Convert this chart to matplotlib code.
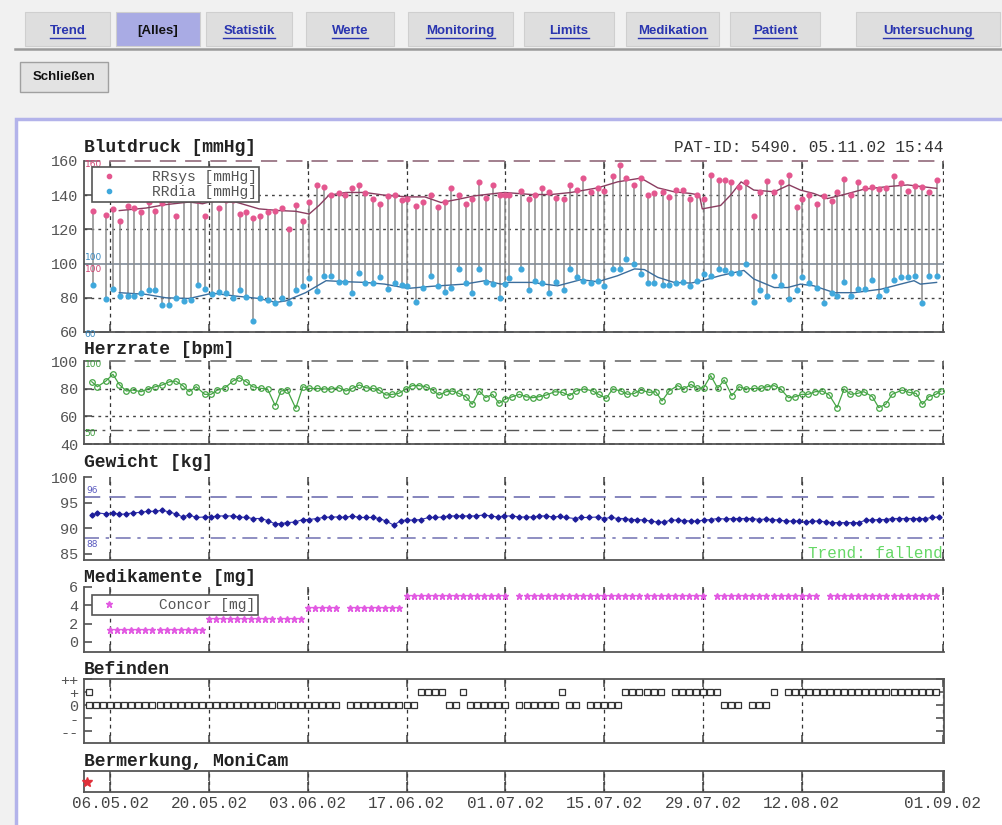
import matplotlib.pyplot as plt
from matplotlib.patches import Rectangle
from matplotlib.lines import Line2D

# ---------------- data (x = days since 06.05.02) ----------------
date_ticks = [0, 14, 28, 42, 56, 70, 84, 98, 118]
date_labels = ['06.05.02', '20.05.02', '03.06.02', '17.06.02', '01.07.02',
               '15.07.02', '29.07.02', '12.08.02', '01.09.02']

bp_days = [-2.4, -0.6, 0.4, 1.4, 2.5, 3.4, 4.4, 5.5, 6.4, 7.4, 8.4, 9.3, 10.5, 11.5, 12.4,
           13.5, 14.4, 15.4, 16.4, 17.4, 18.4, 19.3, 20.3, 21.3, 22.3, 23.4, 24.3, 25.4,
           26.3, 27.3, 28.2, 29.3, 30.3, 31.3, 32.4, 33.3, 34.3, 35.2, 36.1,
           37.3, 38.2, 39.4, 40.3, 41.3, 42.1, 43.3, 44.3, 45.4, 46.4, 47.4, 48.3, 49.4,
           50.4, 51.3, 52.3, 53.3, 54.2, 55.2, 55.9, 56.5, 58.2, 59.3, 60.2, 61.2, 62.2,
           63.2, 64.3, 65.2, 66.1, 67.0, 68.2, 69.1, 70.0, 71.2, 72.2, 73.1, 74.2, 75.2,
           76.2, 77.1,
           78.3, 79.2, 80.2, 81.1, 82.2, 83.1, 84.2, 85.1, 86.3, 87.1, 88.0, 89.1, 90.1,
           91.2, 92.1, 93.1, 94.1, 95.0, 96.2, 97.3, 98.1, 99.0, 100.1, 101.2, 102.3,
           103.0, 104.0, 105.0, 106.0, 107.0, 108.0, 108.9, 109.9, 111.0, 112.0, 113.1,
           114.0, 115.1, 116.0, 117.1]
rr_sys = [131, 128.6, 132, 125, 133.7, 132.5, 130, 136, 131, 135.5, 137, 128, 138, 138, 137,
          128, 138, 132.7, 137, 137, 129, 130, 126.7, 128, 130, 130.6, 132.5, 120, 134, 125,
          136, 146, 145, 140, 141, 140, 144.5, 146, 141,
          138, 135, 139.6, 140.4, 137, 138, 133.7, 136, 140.4, 133, 136, 144.3, 140.4, 135,
          138, 147.5, 138.4, 146, 140.4, 140.4, 140.4, 142.4, 138, 140, 144.3, 141.6, 138.4,
          138, 146, 143, 150, 141.6, 144.3, 142.7, 151.4, 157.6, 149.8, 146, 150, 140.4, 141,
          141.6, 139, 143, 143, 137.6, 140.4, 138, 152, 148.8, 148.8, 147.8, 145, 147.8, 128,
          142, 148.2, 141.6, 147.5, 151.8, 133, 138, 140.4, 135, 139.6, 136.5, 142, 149.4,
          140.4, 147.8, 144.3, 145, 143.5, 144, 151.4, 146.9, 142.4, 145.5, 145, 141.6, 148.8]
rr_dia = [87.5, 79.2, 85, 81, 80.8, 80.8, 83, 84.5, 84.5, 76, 76, 80, 78, 79, 87.5, 85, 82,
          83.5, 83, 80, 84.5, 80.6, 66.5, 80, 79, 77, 80, 77, 84.7, 87, 91.4, 84, 92.5, 92.5,
          89.4, 89.4, 83, 94.3, 88.6,
          88.6, 92, 85, 88.4, 87.5, 86.7, 77.3, 86, 92.5, 86.7, 83.5, 85.5, 96.9, 88.4, 83,
          96.9, 89.4, 88, 79.6, 88, 91.8, 96.9, 84.5, 90, 88.4, 83, 89.4, 84.5, 96.9, 92, 90,
          88.6, 90, 87, 96.9, 96.9, 102.7, 99.8, 94, 88.6, 88.6,
          87.5, 87.5, 88.6, 89.4, 87, 90, 94, 92.5, 96.9, 96, 94.5, 94.5, 99.8, 77.3, 84.7,
          81, 92.5, 87.5, 79.2, 84.5, 92, 88.6, 85.5, 76.7, 83, 80.8, 89, 80.8, 85, 85, 90.6,
          80.8, 84.7, 90.6, 92, 92, 92.5, 76.9, 92.5, 92.5]

sys_trend_days = [1.3, 5.1, 7.9, 11.2, 13.1, 14.5, 17.8, 21.1, 24.0, 26.3, 28.2, 29.6, 31.0,
                  33.4, 36.1, 38.9, 42.2, 44.6, 46.9, 49.3, 51.6, 54.5, 55.9, 59.7, 62.5,
                  65.3, 69.1, 71.9, 75.2, 77.6, 79.9, 82.3, 83.5, 83.9, 86.5, 87.9, 89.4,
                  91.2, 94.1, 96.2, 97.8, 99.7, 101.6, 104.0, 106.8, 110.1, 113.0, 117.1]
sys_trend = [131, 132.5, 134.5, 136, 135, 136.5, 136, 132, 131, 130.6, 129, 134, 140, 141.6,
             141.6, 140, 139, 139, 135.7, 137.6, 139.6, 141, 141.6, 140.4, 140.4, 141.6, 144.3,
             147.8, 150, 144.3, 142, 141, 140, 132, 134, 140, 147.8, 143, 142, 146, 143, 141,
             138, 140.4, 143.5, 145, 146, 144]
dia_trend_days = [1.3, 5.1, 7.9, 11.2, 14.5, 17.8, 21.1, 23.5, 24.9, 27.7, 30.6, 33.4, 36.1,
                  38.9, 42.2, 45.5, 50.2, 53.1, 55.4, 56.4, 59.7, 63.4, 66.7, 69.1, 71.9,
                  74.3, 75.7, 77.6, 79.9, 82.3, 83.9, 86.5, 89.8, 91.2, 94.1, 96.0, 97.8,
                  99.7, 102.6, 105.4, 109.2, 112.0, 113.9, 114.8, 117.1]
dia_trend = [83, 82, 80, 79.6, 82.7, 81, 79.6, 77.3, 78.2, 83, 90, 89.4, 89, 88, 85.5, 86.7,
             88, 90, 88, 89, 89, 87, 90.6, 89.4, 92.9, 96.9, 96.5, 92, 89, 88.6, 90, 93, 96,
             91, 86, 86, 88, 87, 83, 83, 85, 88, 90, 88, 89]

hr_days = [-2.6, -1.8, -0.6, 0.4, 1.3, 2.3, 3.2, 4.4, 5.3, 6.4, 7.4, 8.4, 9.3, 10.3, 11.2,
           12.2, 13.4, 14.3, 15.2, 16.3, 17.4, 18.3, 19.3, 20.2, 21.4, 22.3, 23.4, 24.2, 25.1,
           26.3, 27.3, 28.2, 29.3, 30.3, 31.3, 32.4, 33.4, 34.3, 35.3, 36.2, 37.2, 38.1, 39.1,
           40.0, 40.9, 41.9, 42.8, 43.8, 44.7, 45.7, 46.6, 47.6, 48.5, 49.4, 50.4, 51.3, 52.3,
           53.2, 54.2, 55.1, 56.0, 57.0,
           58.0, 58.9, 59.9, 60.8, 61.8, 63.0, 64.1, 65.1, 66.0, 67.2, 68.4, 69.2, 70.3, 71.2,
           72.4, 73.3, 74.3, 75.2, 76.4, 77.3, 78.2, 79.2, 80.4, 81.3, 82.3, 83.2, 84.1, 85.1,
           86.1, 87.0, 88.1, 89.1, 90.1, 91.3, 92.2, 93.1, 94.1, 95.0, 96.1, 97.1, 98.0, 98.9,
           99.9, 100.9, 101.9, 103.0, 104.0, 104.9, 105.9, 106.8, 108.0, 108.9, 109.9, 110.8,
           112.2, 113.2, 114.2, 115.1, 116.0, 117.0, 117.7]
hr = [85, 81.4, 85.5, 90.4, 83, 78.3, 79, 77.8, 79.8, 81.4, 82.7, 85, 85.5, 82.2, 77.8, 81.4,
      75.9, 75.9, 79, 80.7, 85.5, 88, 85, 81.4, 80.2, 79.8, 67.7, 78.3, 79, 65.8, 81.4, 80.2,
      80.2, 79.8, 79.8, 80.7, 78.3, 80.2, 82.7, 80.7, 80.2, 79, 75.4, 75.9, 76.6, 79.8, 82.2,
      82.2, 81.4, 79, 75.4, 77.8, 78.3, 76.6, 74.2, 68.7, 78.3, 73.5, 75.9, 69.4, 72.5, 74.2,
      75.9, 74.2, 73.5, 74.2, 75.4, 77.8, 77.3, 74.9, 78.3, 79.8, 78.3, 75.9, 73, 79.8, 78.3,
      75.9, 76.6, 79, 77.3, 77.8, 71.1, 78.3, 82.2, 79.8, 83.1, 80.2, 80.7, 89.4, 80.2, 86.3,
      74.9, 81.4, 79.8, 80.2, 80.2, 81.4, 82.2, 79.8, 73.5, 74.2, 75.9, 75.9, 77.8, 78.3, 75.4,
      66.3, 79.8, 75.9, 76.6, 77.8, 74.2, 66.3, 68.7, 75.9, 79, 77.3, 76.6, 68.7, 74.2, 75.9,
      78.3]

wt_days = [-2.6, -1.8, -0.6, 0.4, 1.3, 2.3, 3.2, 4.4, 5.3, 6.3, 7.4, 8.3, 9.3, 10.3, 11.2,
           12.2, 13.4, 14.3, 15.2, 16.3, 17.4, 18.3, 19.3, 20.2, 21.4, 22.3, 23.3, 24.2, 25.1,
           26.2, 27.3, 28.2, 29.3, 30.3, 31.3, 32.4, 33.3, 34.3, 35.3, 36.2, 37.2, 38.1, 39.1,
           40.2, 41.2, 42.1, 43.1, 44.0, 45.2, 46.1, 47.1, 48.0, 49.0, 49.9, 50.9, 51.8, 53.0,
           53.9, 54.9, 55.8, 57.0,
           58.0, 58.9, 59.9, 60.8, 61.8, 62.7, 63.7, 64.6, 65.8, 66.7, 67.9, 69.1, 70.0, 71.0,
           71.9, 72.9, 73.8, 74.7, 75.7, 76.6, 77.6, 78.5, 79.5, 80.4, 81.3, 82.3, 83.2, 84.2,
           85.1, 86.1, 87.2, 88.2, 89.1, 90.1, 91.0, 92.0, 92.9, 93.8, 94.8, 95.7, 96.7, 97.6,
           98.6, 99.5, 100.5, 101.4, 102.3, 103.3, 104.2, 105.2, 106.1, 107.1, 108.0, 108.9,
           109.9, 110.8, 111.8, 112.7, 113.7, 114.6, 115.5, 116.5, 117.4]
wt = [92.5, 93, 92.8, 93, 92.7, 92.8, 93, 93.1, 93.3, 93.3, 93.5, 93.2, 92.8, 92.2, 92.6, 92.1,
      92.2, 92.2, 92.4, 92.4, 92.4, 92.2, 92.1, 91.9, 91.9, 91.5, 90.9, 90.9, 91.1, 91.2, 91.7,
      91.7, 91.9, 92.1, 92.2, 92.2, 92.1, 92.4, 92.1, 92.1, 92.1, 91.9, 91.4, 90.6, 91.5, 91.6,
      91.6, 91.7, 92.1, 92.1, 92.2, 92.4, 92.4, 92.4, 92.4, 92.4, 92.6, 92.4, 92.2, 92.4, 92.4,
      92.2, 92.2, 92.2, 92.4, 92.4, 92.2, 92.3, 92.1, 91.9, 92.1, 92.1, 92.2, 91.9, 92.1, 91.9,
      91.9, 91.7, 91.7, 91.6, 91.4, 91.2, 91.2, 91.6, 91.6, 91.5, 91.4, 91.4, 91.6, 91.7, 91.9,
      91.8, 91.9, 91.9, 91.9, 91.9, 91.7, 91.8, 91.7, 91.6, 91.4, 91.4, 91.4, 91.2, 91.4, 91.4,
      91.2, 91.1, 91.1, 91.1, 91.1, 91.1, 91.6, 91.6, 91.7, 91.7, 91.9, 91.9, 91.9, 91.9, 91.9,
      91.9, 92.1, 92.2]

# Concor dose per day (mg)
med_days = (list(range(0, 14)) + list(range(14, 28)) + list(range(28, 33)) + list(range(34, 42))
            + list(range(42, 57)) + list(range(58, 85)) + list(range(86, 101)) + list(range(102, 118)))
med_dose = ([1.25] * 14 + [2.5] * 14 + [3.75] * 13 + [5.0] * 73)

# Befinden: 1 = "+", 0 = "0"
bef_days = ([-3] + list(range(-3, 33)) + list(range(34, 44)) + list(range(44, 48)) + [48, 49, 50]
            + list(range(51, 57)) + list(range(58, 64)) + [64, 65, 66] + list(range(68, 73))
            + list(range(73, 79)) + list(range(80, 87)) + [87, 88, 89, 91, 92, 93] + [94]
            + list(range(96, 118)))
bef_vals = ([1] + [0] * 36 + [0] * 10 + [1] * 4 + [0, 0, 1] + [0] * 6 + [0] * 6 + [1, 0, 0]
            + [0] * 5 + [1] * 6 + [1] * 7 + [0] * 6 + [1] + [1] * 22)

bem_days = [-3.25]
bem_vals = [0.5]

tab_names = ['Trend', '[Alles]', 'Statistik', 'Werte', 'Monitoring', 'Limits',
             'Medikation', 'Patient', 'Untersuchung']

# ---------------- layout helpers (pixels) ----------------
W, H = 1002, 825
fig = plt.figure(figsize=(W / 100, H / 100), dpi=100)
fig.patch.set_facecolor('#f1f1f1')
plt.rcParams['font.family'] = ['Liberation Mono', 'DejaVu Sans Mono']
NARROW = ['Liberation Sans Narrow', 'Liberation Sans', 'DejaVu Sans']


def box(x0, y0, x1, y1):
    return [x0 / W, 1 - y1 / H, (x1 - x0) / W, (y1 - y0) / H]


def rect(x0, y0, x1, y1, **kw):
    r = Rectangle((x0 / W, 1 - y1 / H), (x1 - x0) / W, (y1 - y0) / H,
                  transform=fig.transFigure, **kw)
    fig.add_artist(r)
    return r


def ftext(x, y, s, **kw):
    return fig.text(x / W, 1 - y / H, s, **kw)


# page: tabs, button, content frame
tab_boxes = [(25, 110), (116, 200), (206, 292), (306, 394), (408, 513), (524, 614),
             (626, 719), (730, 820), (856, 1000)]
for name, (x0, x1) in zip(tab_names, tab_boxes):
    sel = name == '[Alles]'
    rect(x0, 12, x1, 46, fc='#a9abe4' if sel else '#dedede', ec='#cfcfcf', lw=0.8, zorder=-4)
fig.add_artist(Line2D([15 / W, 1], [1 - 49 / H] * 2, transform=fig.transFigure,
                      color='#9a9a9a', lw=1.8, zorder=-3))
tab_texts = []
for name, (x0, x1) in zip(tab_names, tab_boxes):
    sel = name == '[Alles]'
    t = ftext((x0 + x1) / 2, 31, name, ha='center', va='center', fontsize=9.5,
              fontweight='bold', family=NARROW, color='#111111' if sel else '#2a35b0')
    if not sel:
        tab_texts.append(t)

rect(20, 62, 108, 92, fc='#e3e3e3', ec='#a0a0a0', lw=1, zorder=-4)
ftext(64, 77, 'Schließen', ha='center', va='center', fontsize=9.5, fontweight='bold',
      family=NARROW, color='#111111')

rect(16, 119, W + 5, H + 5, fc='white', ec='#b3b3ea', lw=2.5, zorder=-5)

# ---------------- panels ----------------
L, R = 84, 944
XMIN, XMAX = -3.7, 118.15
GRID_V = dict(color='#333333', linestyle=(0, (3, 3)), lw=0.9)
DOT = dict(color='#444444', linestyle=(0, (2, 3)), lw=1.0)


def panel(y0, y1, ylim, yticks, yticklabels=None, closed=False, right_ticks=False):
    ax = fig.add_axes(box(L, y0, R, y1))
    ax.set_xlim(XMIN, XMAX)
    ax.set_ylim(*ylim)
    ax.set_xticks(date_ticks)
    ax.set_xticklabels([])
    ax.set_yticks(yticks)
    if yticklabels is not None:
        ax.set_yticklabels(yticklabels)
    ax.tick_params(direction='in', length=6, width=1.1, color='#444444', labelsize=11,
                   labelcolor='#555555', pad=4, top=True, right=right_ticks)
    for t in date_ticks:
        ax.axvline(t, zorder=0.5, **GRID_V)
    for s in ['top', 'right']:
        ax.spines[s].set_visible(closed)
    for s in ax.spines.values():
        s.set_color('#555555')
        s.set_linewidth(1.3)
    return ax


def title(y, s):
    ftext(L, y, s, ha='left', va='center', fontsize=13, fontweight='bold', color='#222222')


def small(ax, x, y, s, color):
    ax.text(x, y, s, fontsize=6.5, color=color, va='center', ha='left',
            family=['DejaVu Sans'])


def style_legend(leg):
    leg.get_frame().set_linewidth(1.2)
    leg.set_zorder(5)
    for t in leg.get_texts():
        t.set_color('#555555')


# Blutdruck
ax1 = panel(161, 332, (60, 160), [60, 80, 100, 120, 140, 160])
title(148, 'Blutdruck [mmHg]')
ftext(R - 1, 148, 'PAT-ID: 5490. 05.11.02 15:44', ha='right', va='center', fontsize=11.5,
      color='#333333')
ax1.axhline(160, color='#9a7585', linestyle=(0, (9, 5)), lw=1.3, clip_on=False)
ax1.axhline(100, color='#7f8b99', lw=1.2)
for v in [80, 120, 140]:
    ax1.axhline(v, **DOT)
ax1.axhline(60, color='#6f7a88', linestyle=(0, (5, 3)), lw=1.4, clip_on=False)
ax1.vlines(bp_days, rr_dia, rr_sys, color='#8c8c8c', lw=1.1, zorder=2)
ax1.plot(sys_trend_days, sys_trend, color='#8a3d60', lw=1.0, zorder=2.5)
ax1.plot(dia_trend_days, dia_trend, color='#3b6d9c', lw=1.0, zorder=2.5)
ax1.plot(bp_days, rr_sys, 'o', ms=3.4, color='#e4578f', zorder=3, label='RRsys [mmHg]')
ax1.plot(bp_days, rr_dia, 'o', ms=3.4, color='#3fa8dc', zorder=3, label='RRdia [mmHg]')
small(ax1, -3.6, 158, '160', '#d04070')
small(ax1, -3.6, 103.5, '100', '#3a8ac0')
small(ax1, -3.6, 96.5, '100', '#d04070')
small(ax1, -3.6, 58.5, '60', '#3a8ac0')
leg = ax1.legend(loc='upper left', bbox_to_anchor=(0.009, 0.965), borderaxespad=0,
                 prop=dict(size=10.5), fancybox=False, framealpha=1, edgecolor='#555555',
                 borderpad=0.2, labelspacing=0.05, handlelength=2.0, handletextpad=1.9,
                 markerscale=0.9)
style_legend(leg)

# Herzrate
ax2 = panel(361, 444, (40, 100), [40, 60, 80, 100])
title(349, 'Herzrate [bpm]')
ax2.axhline(100, color='#7a7a7a', linestyle=(0, (9, 5)), lw=1.3, clip_on=False)
ax2.axhline(80, **DOT)
ax2.axhline(60, **DOT)
ax2.axhline(50, color='#555555', linestyle=(0, (9, 4, 2, 4)), lw=1.0)
ax2.axhline(40, color='#6f6f6f', linestyle=(0, (3, 2)), lw=1.4, clip_on=False)
ax2.plot(hr_days, hr, '-o', color='#45a545', lw=0.9, ms=4, mfc='none', mew=0.9, zorder=3)
small(ax2, -3.6, 97.5, '100', '#3c9c3c')
small(ax2, -3.6, 47.5, '50', '#3c9c3c')

# Gewicht
ax3 = panel(477, 560, (83.8, 100), [85, 90, 95, 100])
title(463, 'Gewicht [kg]')
ax3.axhline(96, color='#7c7cb8', linestyle=(0, (9, 5)), lw=1.3)
ax3.axhline(88, color='#7c7cb8', linestyle=(0, (9, 4, 2, 4)), lw=1.2)
ax3.plot(wt_days, wt, '-', color='#3434b0', lw=0.8, zorder=2.5)
ax3.plot(wt_days, wt, 'D', color='#1d1d9a', ms=2.6, zorder=3)
small(ax3, -3.4, 97.3, '96', '#5a5ac0')
small(ax3, -3.4, 86.9, '88', '#5a5ac0')
ftext(R - 1, 553, 'Trend: fallend', ha='right', va='center', fontsize=11.5, color='#66d866')

# Medikamente
ax4 = panel(587, 652, (-1.1, 6), [0, 2, 4, 6])
title(577, 'Medikamente [mg]')
ax4.plot(med_days, med_dose, '*', color='#e25ae2', ms=4.5, linestyle='none',
         label='Concor [mg]')
leg4 = ax4.legend(loc='upper left', bbox_to_anchor=(0.009, 0.88), borderaxespad=0,
                  prop=dict(size=10.5), fancybox=False, framealpha=1, edgecolor='#555555',
                  borderpad=0.2, handlelength=2.0, handletextpad=2.4)
style_legend(leg4)

# Befinden
ax5 = panel(679, 743, (-2.9, 2), [-2, -1, 0, 1, 2], ['--', '-', '0', '+', '++'],
            closed=True, right_ticks=True)
title(669, 'Befinden')
ax5.plot(bef_days, bef_vals, 's', ms=4.2, mfc='white', mec='#333333', mew=0.9,
         linestyle='none', zorder=3)

# Bemerkung
ax6 = panel(771, 792, (0, 1), [], closed=True)
title(761, 'Bermerkung, MoniCam')
ax6.plot(bem_days, bem_vals, '*', color='#e0303a', ms=7, zorder=3, clip_on=False)
ax6.tick_params(axis='x', length=7)
ax6.set_xticklabels(date_labels)
ax6.tick_params(axis='x', labelbottom=True, labelsize=11.5, pad=3, labelcolor='#444444')

# underline tab links
fig.canvas.draw()
rend = fig.canvas.get_renderer()
for t in tab_texts:
    bb = t.get_window_extent(rend)
    fig.add_artist(Line2D([bb.x0 / W, bb.x1 / W], [(bb.y0 - 1) / H] * 2,
                          transform=fig.transFigure, color='#2a35b0', lw=1.0))

fig.savefig('out.png', dpi=100)
